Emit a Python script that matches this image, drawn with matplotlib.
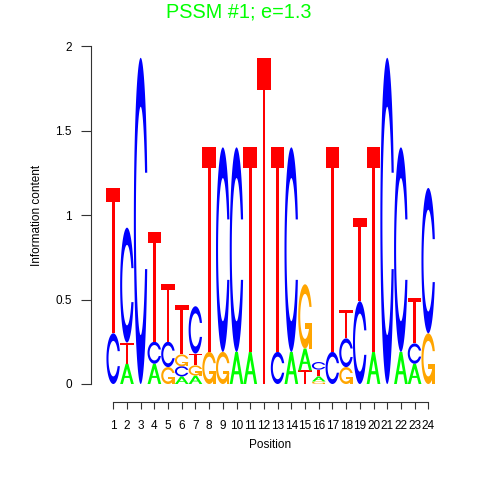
import numpy as np
import matplotlib
matplotlib.use('Agg')
from matplotlib import pyplot as plt
from matplotlib.patches import Polygon

# information content (bits) per base
positions = list(range(1, 25))
bits_A = [0, 0.12, 0, 0.12, 0, 0.045, 0.05, 0, 0, 0.19, 0.19, 0, 0, 0.19,
          0.13, 0.03, 0, 0, 0, 0.19, 0, 0.19, 0.12, 0]
bits_C = [0.30, 0.68, 1.93, 0.13, 0.15, 0.06, 0.28, 0, 1.21, 1.21, 0, 0, 0.19, 1.21,
          0, 0.045, 0.19, 0.17, 0.49, 0, 1.93, 1.21, 0.12, 0.86]
bits_G = [0, 0, 0, 0, 0.10, 0.07, 0.06, 0.19, 0.19, 0, 0, 0, 0, 0,
          0.38, 0.015, 0, 0.10, 0, 0, 0, 0, 0, 0.30]
bits_T = [0.86, 0.125, 0, 0.65, 0.34, 0.29, 0.07, 1.21, 0, 0, 1.21, 1.93, 1.21, 0,
          0.08, 0.04, 1.21, 0.17, 0.49, 1.21, 0, 0, 0.27, 0]
letters = ['A', 'C', 'G', 'T']
colors = {'A': '#00FF00', 'C': '#0000FF', 'G': '#FFA500', 'T': '#FF0000'}
title = 'PSSM #1; e=1.3'


def ring():
    # open ring used by C and G (unit box)
    a1 = np.linspace(0.3 + np.pi / 2, np.pi, 100)
    a2 = np.linspace(np.pi, 1.5 * np.pi, 100)
    xl = np.r_[0.5 + 0.5 * np.sin(a1), 0.5 + 0.5 * np.sin(a2)]
    yl = np.r_[0.5 + 0.5 * np.cos(a1), 0.5 + 0.5 * np.cos(a2)]
    xo = np.r_[xl, xl[::-1]]
    yo = np.r_[yl, 1 - yl[::-1]]
    hmax = (0.5 + 0.5 * np.cos(a1)).max()
    xi1 = 0.5 + 0.35 * np.sin(a1)
    yi1 = 0.5 + 0.35 * np.cos(a1)
    keep = yi1 <= hmax
    xi1, yi1 = xi1[keep], yi1[keep]
    yi1[0] = hmax
    xi = np.r_[xi1, 0.5 + 0.35 * np.sin(a2)]
    yi = np.r_[yi1, 0.5 + 0.35 * np.cos(a2)]
    x1 = np.r_[xi, xi[::-1]]
    y1 = np.r_[yi, 1 - yi[::-1]]
    return np.r_[xo, x1[::-1]], np.r_[yo, y1[::-1]]


def shapes(ch):
    col = colors[ch]
    if ch == 'A':
        x = np.array([0, 4, 6, 10, 8, 6.8, 3.2, 2, 0]) * 0.1
        y = np.array([0, 10, 10, 0, 0, 3, 3, 0, 0]) * 0.1
        xh = np.array([3.6, 5, 6.4, 3.6]) * 0.1
        yh = np.array([4, 7.5, 4, 4]) * 0.1
        return [(x, y, col), (xh, yh, 'white')]
    if ch == 'T':
        x = np.array([0, 10, 10, 6, 6, 4, 4, 0]) * 0.1
        y = np.array([10, 10, 9, 9, 0, 0, 9, 9]) * 0.1
        return [(x, y, col)]
    x, y = ring()
    if ch == 'C':
        return [(x, y, col)]
    r1 = 0.5 + 0.5 * np.sin(0.3 + np.pi / 2)
    h1 = 0.4
    xa = np.array([r1, 0.5, 0.5, r1 - 0.2, r1 - 0.2, r1, r1])
    ya = np.array([h1, h1, h1 - 0.1, h1 - 0.1, 0, 0, h1])
    return [(x, y, col), (xa, ya, col)]


W = H = 480
fig = plt.figure(figsize=(4.8, 4.8), dpi=100)
left, right, bot, top = 90.5, 440, 402, 40
ax = fig.add_axes([left / W, 1 - bot / H, (right - left) / W, (bot - top) / H])
xs = (428.3 - 113.3) / 23
ys = (384 - 46) / 2
ax.set_xlim(1 - (113.3 - left) / xs, 1 + (right - 113.3) / xs)
ax.set_ylim(-(bot - 384) / ys, (384 - top) / ys)

table = np.array([bits_A, bits_C, bits_G, bits_T])
for i, p in enumerate(positions):
    col = table[:, i]
    order = sorted(range(4), key=lambda k: col[k])
    y0 = 0.0
    for k in order:
        h = col[k]
        if h <= 0:
            continue
        for sx, sy, c in shapes(letters[k]):
            xy = np.c_[p - 0.5 + sx, y0 + h * sy]
            ax.add_patch(Polygon(xy, closed=True, facecolor=c,
                                 edgecolor='none', antialiased=True))
        y0 += h

for s in ['top', 'right']:
    ax.spines[s].set_visible(False)
ax.spines['left'].set_bounds(0, 2)
ax.spines['bottom'].set_bounds(1, 24)
for s in ['left', 'bottom']:
    ax.spines[s].set_linewidth(0.8)
    ax.spines[s].set_color('#333333')
ax.set_yticks([0, 0.5, 1, 1.5, 2])
ax.set_yticklabels(['0', '0.5', '1', '1.5', '2'])
ax.set_xticks(positions)
ax.set_xticklabels([str(p) for p in positions])
ax.tick_params(direction='out', width=0.8, color='#333333', labelsize=8.5)
ax.tick_params(axis='y', length=7, pad=6.5)
ax.tick_params(axis='x', length=4.8, pad=8)
for lab in ax.get_xticklabels() + ax.get_yticklabels():
    lab.set_family('Liberation Sans')

fig.text(239 / W, 1 - 12 / H, title, ha='center', va='center',
         color='#00FF00', fontsize=14.3, family='Liberation Sans')
fig.text(37 / W, 1 - 215 / H, 'Information content', rotation=90,
         ha='center', va='center', fontsize=8.5, family='Liberation Sans')
fig.text(270 / W, 1 - 445 / H, 'Position', ha='center', va='center',
         fontsize=8.5, family='Liberation Sans')

fig.savefig('out.png', dpi=100)
